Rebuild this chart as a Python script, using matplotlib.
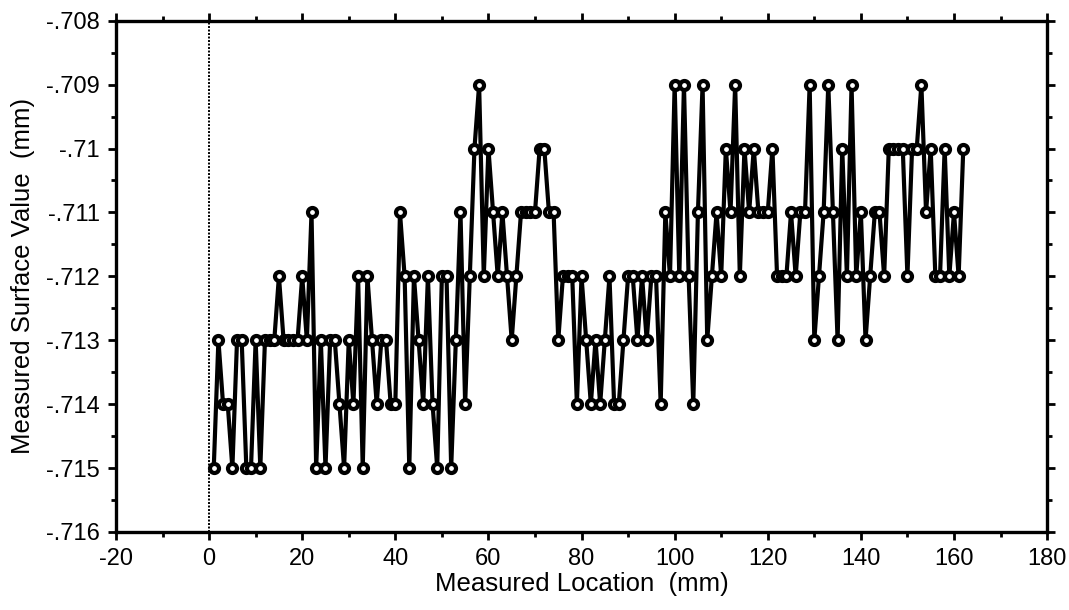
import numpy as np
import matplotlib
matplotlib.use("Agg")
import matplotlib.pyplot as plt
from matplotlib.ticker import MultipleLocator, FuncFormatter

plt.rcParams['font.family'] = ['Liberation Sans', 'DejaVu Sans']
plt.rcParams['axes.unicode_minus'] = False

# surface readings (mm), one per mm of travel
surface = [
    -.715, -.713, -.714, -.714, -.715, -.713, -.713, -.715, -.715, -.713,
    -.715, -.713, -.713, -.713, -.712, -.713, -.713, -.713, -.713, -.712,
    -.713, -.711, -.715, -.713, -.715, -.713, -.713, -.714, -.715, -.713,
    -.714, -.712, -.715, -.712, -.713, -.714, -.713, -.713, -.714, -.714,
    -.711, -.712, -.715, -.712, -.713, -.714, -.712, -.714, -.715, -.712,
    -.712, -.715, -.713, -.711, -.714, -.712, -.710, -.709, -.712, -.710,
    -.711, -.712, -.711, -.712, -.713, -.712, -.711, -.711, -.711, -.711,
    -.710, -.710, -.711, -.711, -.713, -.712, -.712, -.712, -.714, -.712,
    -.713, -.714, -.713, -.714, -.713, -.712, -.714, -.714, -.713, -.712,
    -.712, -.713, -.712, -.713, -.712, -.712, -.714, -.711, -.712, -.709,
    -.712, -.709, -.712, -.714, -.711, -.709, -.713, -.712, -.711, -.712,
    -.710, -.711, -.709, -.712, -.710, -.711, -.710, -.711, -.711, -.711,
    -.710, -.712, -.712, -.712, -.711, -.712, -.711, -.711, -.709, -.713,
    -.712, -.711, -.709, -.711, -.713, -.710, -.712, -.709, -.712, -.711,
    -.713, -.712, -.711, -.711, -.712, -.710, -.710, -.710, -.710, -.712,
    -.710, -.710, -.709, -.711, -.710, -.712, -.712, -.710, -.712, -.711,
    -.712, -.710,
]
location = np.arange(1, len(surface) + 1)

x_range = (-20, 180)
y_range = (-.716, -.708)


def short_fmt(v, pos):
    s = f"{v:.3f}".rstrip("0").rstrip(".")
    return s.replace("-0.", "-.").replace("0.", ".")


fig = plt.figure(figsize=(10.69, 6.10), dpi=100)
ax = fig.add_axes([0.1085, 0.128, 0.871, 0.838])

ax.axvline(0, color="black", lw=1.4, ls=(0, (1, 0.8)), zorder=1)
ax.plot(location, surface, color="black", lw=3.0, marker="o",
        markersize=6.5, markerfacecolor="white", markeredgecolor="black",
        markeredgewidth=3.0, zorder=3, clip_on=False)

ax.set_xlim(*x_range)
ax.set_ylim(*y_range)
ax.xaxis.set_major_locator(MultipleLocator(20))
ax.xaxis.set_minor_locator(MultipleLocator(10))
ax.yaxis.set_major_locator(MultipleLocator(0.001))
ax.yaxis.set_minor_locator(MultipleLocator(0.0005))
ax.yaxis.set_major_formatter(FuncFormatter(short_fmt))
ax.xaxis.set_major_formatter(FuncFormatter(lambda v, p: f"{v:.0f}"))

for sp in ax.spines.values():
    sp.set_linewidth(2.4)
ax.tick_params(which="both", direction="out", top=True, right=True, width=2)
ax.tick_params(which="major", length=5.5, labelsize=17, pad=6)
ax.tick_params(which="minor", length=3.5)

ax.set_xlabel("Measured Location  (mm)", fontsize=18.5)
ax.set_ylabel("Measured Surface Value  (mm)", fontsize=18.5)
ax.xaxis.set_label_coords(0.5, -0.078)
ax.yaxis.set_label_coords(-0.087, 0.5)

fig.savefig("out.png", dpi=100)
